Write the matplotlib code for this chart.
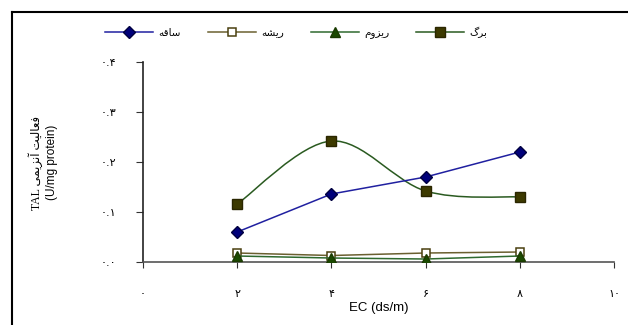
import matplotlib
matplotlib.use('Agg')
import matplotlib.pyplot as plt
from matplotlib.path import Path
from matplotlib.patches import PathPatch
from matplotlib.lines import Line2D

plt.rcParams['font.family'] = ['Liberation Sans', 'DejaVu Sans']

# data (EC in ds/m, TAL activity in U/mg protein)
ec = [2, 4, 6, 8]
saqeh = [0.060, 0.136, 0.170, 0.220]     # stem
risheh = [0.018, 0.013, 0.018, 0.020]    # root
rizom = [0.012, 0.008, 0.006, 0.012]     # rhizome
barg = [0.116, 0.242, 0.142, 0.130]      # leaf

# Persian labels written in presentation forms (visual order) since matplotlib does no shaping
lbl_saqeh = '\uFEEA\uFED7\uFE8E\uFEB3'
lbl_risheh = '\uFEEA\uFEB8\uFEF3\uFEAD'
lbl_rizom = '\uFEE1\uFEED\uFEB0\uFEF3\uFEAD'
lbl_barg = '\uFB92\uFEAE\uFE91'
ylab_fa = '\uFEF0\uFEE4\uFEF3\uFEB0\uFEE7\uFE81 \uFE96\uFEF4\uFEDF\uFE8E\uFECC\uFED3'

xticks = [0, 2, 4, 6, 8, 10]
xtick_labels = ['۰', '۲', '۴', '۶', '۸', '۱۰']
yticks = [0.0, 0.1, 0.2, 0.3, 0.4]
ytick_labels = ['۰.۰', '۰.۱', '۰.۲', '۰.۳', '۰.۴']


def smooth_path(xs, ys):
    # Excel style smoothed line: cubic bezier through the points
    pts = list(zip(xs, ys))
    verts = [pts[0]]
    codes = [Path.MOVETO]
    n = len(pts)
    for i in range(n - 1):
        p0 = pts[i - 1] if i > 0 else pts[i]
        p1 = pts[i]
        p2 = pts[i + 1]
        p3 = pts[i + 2] if i + 2 < n else pts[i + 1]
        c1 = (p1[0] + (p2[0] - p0[0]) / 6, p1[1] + (p2[1] - p0[1]) / 6)
        c2 = (p2[0] - (p3[0] - p1[0]) / 6, p2[1] - (p3[1] - p1[1]) / 6)
        verts += [c1, c2, p2]
        codes += [Path.CURVE4] * 3
    return Path(verts, codes)


fig = plt.figure(figsize=(6.28, 3.25), dpi=100)
ax = fig.add_axes([0.2277, 0.1938, 0.750, 0.6154])

ax.plot(ec, saqeh, color='#2020a0', lw=1.1, marker='D', ms=6,
        mfc='#00007a', mec='#000040', label=lbl_saqeh, zorder=4)
ax.plot(ec, risheh, color='#6b6030', lw=1.1, marker='s', ms=6,
        mfc='white', mec='#4a4010', mew=1.1, label=lbl_risheh, zorder=3)
ax.plot(ec, rizom, color='#2f6a2f', lw=1.1, marker='^', ms=7,
        mfc='#1a4a00', mec='#1a3a00', label=lbl_rizom, zorder=3)
ax.add_patch(PathPatch(smooth_path(ec, barg), fc='none', ec='#2a5a20', lw=1.1, zorder=3))
ax.plot(ec, barg, ls='none', marker='s', ms=7, mfc='#3d3a00', mec='#2a2600',
        zorder=4)
barg_handle = Line2D([], [], color='#2a5a20', lw=1.1, marker='s', ms=7,
                     mfc='#3d3a00', mec='#2a2600')

ax.set_xlim(0, 10)
ax.set_ylim(0, 0.4)
ax.set_xticks(xticks)
ax.set_xticklabels(xtick_labels, fontsize=8, family=['DejaVu Sans'])
ax.set_yticks(yticks)
ax.set_yticklabels(ytick_labels, fontsize=8, family=['DejaVu Sans'])
ax.tick_params(axis='x', direction='out', length=4, pad=15.5, color='#333333')
ax.tick_params(axis='y', direction='out', length=5, pad=14, color='#333333')

for s in ['top', 'right']:
    ax.spines[s].set_visible(False)
ax.spines['bottom'].set_color('#555555')
ax.spines['bottom'].set_linewidth(1.2)
ax.spines['left'].set_color('#222222')
ax.spines['left'].set_linewidth(1.2)

ax.set_xlabel('EC (ds/m)', fontsize=9.5, labelpad=2)

fig.text(0.057, 0.50, 'TAL ' + ylab_fa, rotation=90, fontsize=8.5,
         ha='center', va='center', family=['Liberation Serif', 'DejaVu Sans'])
fig.text(0.083, 0.50, '(U/mg protein)', rotation=90, fontsize=8.5,
         ha='center', va='center')

handles = ax.get_legend_handles_labels()[0][:3] + [barg_handle]
labels = [lbl_saqeh, lbl_risheh, lbl_rizom, lbl_barg]
fig.legend(handles, labels, loc='center', bbox_to_anchor=(0.472, 0.9), ncol=4,
           frameon=False, handlelength=4.6, columnspacing=2.6,
           handletextpad=0.5, prop={'family': ['DejaVu Sans'], 'size': 7.5})

# outer frame (left and top edges visible in the crop)
fig.add_artist(Line2D([0.019, 0.019], [0.0, 0.963], color='black', lw=1.5,
                      transform=fig.transFigure))
fig.add_artist(Line2D([0.019, 1.0], [0.963, 0.963], color='black', lw=1.5,
                      transform=fig.transFigure))

fig.savefig('out.png', dpi=100)
